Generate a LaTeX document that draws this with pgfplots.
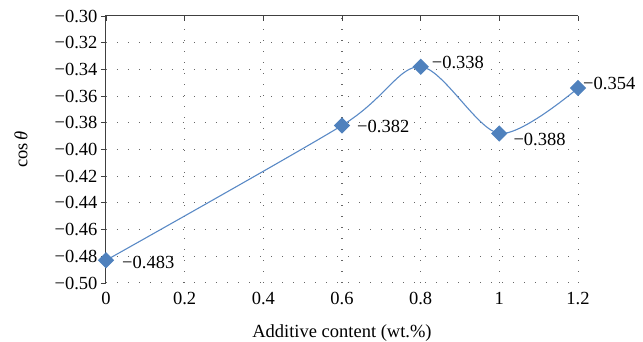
\documentclass[border=0pt]{standalone}
\usepackage{fontspec}
\setmainfont{Liberation Serif}
\usepackage{pgfplots}
\pgfplotsset{compat=1.18}
\definecolor{mk}{HTML}{4F81BD}
\definecolor{ln}{HTML}{5A8AC6}
\definecolor{ax}{HTML}{404040}
\begin{document}
\begin{tikzpicture}[font=\fontsize{18.5}{22}\selectfont]
\begin{axis}[
  scale only axis, width=472pt, height=267pt,
  xmin=0, xmax=1.2, ymin=-0.5, ymax=-0.3,
  clip=false,
  xtick={0,0.2,0.4,0.6,0.8,1,1.2},
  xticklabels={\textrm{0},\textrm{0.2},\textrm{0.4},\textrm{0.6},\textrm{0.8},\textrm{1},\textrm{1.2}},
  ytick={-0.5,-0.48,-0.46,-0.44,-0.42,-0.4,-0.38,-0.36,-0.34,-0.32,-0.3},
  yticklabels={\textrm{−0.50},\textrm{−0.48},\textrm{−0.46},\textrm{−0.44},\textrm{−0.42},\textrm{−0.40},\textrm{−0.38},\textrm{−0.36},\textrm{−0.34},\textrm{−0.32},\textrm{−0.30}},
  axis line style={draw=none},
  xtick pos=right, xticklabel pos=left,
  ytick pos=left, yticklabel pos=left,
  xtick align=inside, ytick align=outside,
  major tick length=5pt,
  tick style={ax, line width=0.9pt},
  xticklabel style={anchor=north, yshift=-6pt},
  grid=major,
  major grid style={gray!80!black, line width=1pt, dash pattern=on 1pt off 10pt},
  xlabel={Additive content (wt.\%)},
  ylabel={cos\,\textit{θ}},
  xlabel style={at={(axis description cs:0.5,-0.206)}, anchor=base},
  ylabel style={at={(axis description cs:-0.180,0.5)}, anchor=center},
]
\addplot[ln, line width=1.1pt, smooth, tension=0.5, mark=square*, mark size=5.2pt,
  mark options={rotate=45, fill=mk, draw=mk}]
  coordinates {(0,-0.483) (0.6,-0.382) (0.8,-0.338) (1,-0.388) (1.2,-0.354)};
\addplot[draw=none, mark=none, nodes near coords, point meta=explicit symbolic,
  nodes near coords style={anchor=west, inner sep=0pt, xshift=16pt, yshift=-2pt}]
  coordinates {(0,-0.483) [−0.483]};
\addplot[draw=none, mark=none, nodes near coords, point meta=explicit symbolic,
  nodes near coords style={anchor=west, inner sep=0pt, xshift=15pt, yshift=-1.5pt}]
  coordinates {(0.6,-0.382) [−0.382]};
\addplot[draw=none, mark=none, nodes near coords, point meta=explicit symbolic,
  nodes near coords style={anchor=west, inner sep=0pt, xshift=11pt, yshift=4pt}]
  coordinates {(0.8,-0.338) [−0.338]};
\addplot[draw=none, mark=none, nodes near coords, point meta=explicit symbolic,
  nodes near coords style={anchor=west, inner sep=0pt, xshift=14pt, yshift=-6pt}]
  coordinates {(1,-0.388) [−0.388]};
\addplot[draw=none, mark=none, nodes near coords, point meta=explicit symbolic,
  nodes near coords style={anchor=west, inner sep=0pt, xshift=5pt, yshift=5pt}]
  coordinates {(1.2,-0.354) [−0.354]};
\draw[ax, line width=1pt] (rel axis cs:0,0) -- (rel axis cs:0,1) -- (rel axis cs:1,1);
\end{axis}
\pgfresetboundingbox
\path ([shift={(-106pt,-59pt)}]current axis.south west) rectangle ([shift={(65pt,16pt)}]current axis.north east);
\end{tikzpicture}
\end{document}
